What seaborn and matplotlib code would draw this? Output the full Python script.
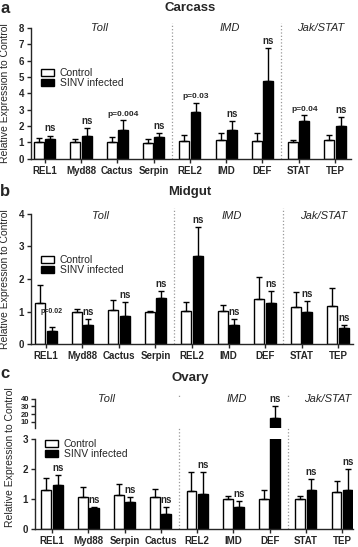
import numpy as np
import pandas as pd
import seaborn as sns
import matplotlib.pyplot as plt

# Data (mean relative expression, upper error)
genes_ab = ['REL1', 'Myd88', 'Cactus', 'Serpin', 'REL2', 'IMD', 'DEF', 'STAT', 'TEP']
genes_c = ['REL1', 'Myd88', 'Serpin', 'Cactus', 'REL2', 'IMD', 'DEF', 'STAT', 'TEP']
groups = ['Control', 'SINV infected']
pathways = ['Toll', 'IMD', 'Jak/STAT']

carcass_ctrl = [1.0, 1.0, 1.0, 0.95, 1.1, 1.14, 1.1, 1.0, 1.12]
carcass_ctrl_err = [0.25, 0.2, 0.3, 0.23, 0.37, 0.45, 0.5, 0.16, 0.35]
carcass_sinv = [1.18, 1.38, 1.78, 1.33, 2.84, 1.78, 4.78, 2.33, 2.02]
carcass_sinv_err = [0.24, 0.47, 0.57, 0.22, 0.56, 0.55, 2.0, 0.32, 0.55]
carcass_sig = ['ns', 'ns', 'p=0.004', 'ns', 'p=0.03', 'ns', 'ns', 'p=0.04', 'ns']

midgut_ctrl = [1.26, 0.99, 1.05, 1.0, 1.01, 1.01, 1.39, 1.14, 1.18]
midgut_ctrl_err = [0.56, 0.09, 0.30, 0.02, 0.28, 0.19, 0.68, 0.46, 0.53]
midgut_sinv = [0.42, 0.59, 0.88, 1.43, 2.71, 0.59, 1.26, 0.98, 0.49]
midgut_sinv_err = [0.10, 0.19, 0.42, 0.19, 0.87, 0.19, 0.36, 0.35, 0.10]
midgut_sig = ['p=0.02', 'ns', 'ns', 'ns', 'ns', 'ns', 'ns', 'ns', 'ns']

ovary_ctrl = [1.30, 1.07, 1.12, 1.06, 1.28, 0.99, 1.01, 1.0, 1.22]
ovary_ctrl_err = [0.40, 0.32, 0.37, 0.26, 0.63, 0.10, 0.30, 0.10, 0.38]
ovary_sinv = [1.48, 0.71, 0.91, 0.50, 1.18, 0.73, 14.5, 1.30, 1.30]
ovary_sinv_err = [0.33, 0.03, 0.16, 0.22, 0.71, 0.21, 15.5, 0.37, 0.69]
ovary_sig = ['ns'] * 9

sns.set_style('ticks')
plt.rcParams['font.family'] = ['Liberation Sans', 'DejaVu Sans']
plt.rcParams['axes.linewidth'] = 1.0

W, H = 358, 547
fig = plt.figure(figsize=(W / 100, H / 100), dpi=100)


def px_axes(left, right, top, bottom):
    return fig.add_axes([left / W, 1 - bottom / H, (right - left) / W, (bottom - top) / H])


def draw_bars(ax, genes, ctrl, sinv):
    df = pd.DataFrame({'Gene': genes * 2, 'Expr': ctrl + sinv,
                       'Group': [groups[0]] * len(genes) + [groups[1]] * len(genes)})
    sns.barplot(data=df, x='Gene', y='Expr', hue='Group', order=genes, hue_order=groups,
                palette=['white', 'black'], edgecolor='black', linewidth=1,
                width=0.62, gap=0.12, errorbar=None, ax=ax)


def add_err(ax, errs, min_height=None):
    for cont, err in zip(ax.containers, errs):
        xs, ys, es = [], [], []
        for b, e in zip(cont, err):
            if min_height is not None and b.get_height() < min_height:
                continue
            xs.append(b.get_x() + b.get_width() / 2)
            ys.append(b.get_height())
            es.append(e)
        if xs:
            ax.errorbar(xs, ys, yerr=[np.zeros(len(es)), es], fmt='none', ecolor='black',
                        elinewidth=1, capsize=2.5, capthick=1, zorder=3)


def add_sig(ax, sig, err, skip=None):
    for b, s, e in zip(ax.containers[1], sig, err):
        if skip is not None and skip(b.get_height()):
            continue
        x = b.get_x() + b.get_width() / 2
        y = b.get_height() + e
        if s.startswith('p'):
            fs = 5 if s == 'p=0.02' else 6
            off = 9 if s == 'p=0.02' else 2
        else:
            fs, off = 7, 1.5
        ax.annotate(s, (x, y), xytext=(0, off), textcoords='offset points',
                    ha='center', va='bottom', fontsize=fs, fontweight='bold')


def style(ax, xlim, legend_y):
    ax.set_xlim(*xlim)
    ax.set_xlabel('')
    ax.set_ylabel('')
    sns.despine(ax=ax)
    ax.tick_params(axis='both', length=3, width=1, pad=2, labelsize=7)
    for t in ax.get_xticklabels() + ax.get_yticklabels():
        t.set_fontweight('bold')
    handles, labels = ax.get_legend_handles_labels()
    ax.legend(handles, labels, loc='center left', bbox_to_anchor=(0.03, legend_y),
              frameon=False, fontsize=7.5, handlelength=1.25, handleheight=0.6,
              handletextpad=0.6, labelspacing=0.0, borderpad=0, borderaxespad=0)


def pathway_labels(ax, xs, y):
    for name, x in zip(pathways, xs):
        ax.text(x, y, name, transform=ax.get_xaxis_transform(), ha='center', va='center',
                fontsize=8, fontstyle='italic')


# Panel a: Carcass
ax_a = px_axes(31, 351, 28, 158.7)
draw_bars(ax_a, genes_ab, carcass_ctrl, carcass_sinv)
add_err(ax_a, [carcass_ctrl_err, carcass_sinv_err])
add_sig(ax_a, carcass_sig, carcass_sinv_err)
ax_a.set_ylim(0, 8)
ax_a.set_yticks(range(0, 9))
style(ax_a, (-0.38, 8.44), 0.615)
for xv in (3.5, 6.5):
    ax_a.axvline(xv, ymin=0, ymax=1.04, color='#999999', ls=':', lw=0.9, clip_on=False)
pathway_labels(ax_a, [1.5, 5.1, 7.6], 1.0)
ax_a.set_ylabel('Relative Expression to Control', fontsize=7.5)
ax_a.yaxis.set_label_coords(-0.066, 0.5)

# Panel b: Midgut
ax_b = px_axes(31, 353, 213.7, 344.3)
draw_bars(ax_b, genes_ab, midgut_ctrl, midgut_sinv)
add_err(ax_b, [midgut_ctrl_err, midgut_sinv_err])
add_sig(ax_b, midgut_sig, midgut_sinv_err)
ax_b.set_ylim(0, 4)
ax_b.set_yticks(range(0, 5))
style(ax_b, (-0.41, 8.41), 0.607)
for xv in (3.5, 6.5):
    ax_b.axvline(xv, ymin=0, ymax=1.04, color='#999999', ls=':', lw=0.9, clip_on=False)
pathway_labels(ax_b, [1.5, 5.1, 7.6], 0.98)
ax_b.set_ylabel('Relative Expression to Control', fontsize=7.5)
ax_b.yaxis.set_label_coords(-0.066, 0.5)

# Panel c: Ovary (broken y axis)
ax_c = px_axes(35, 353, 439.3, 528.7)
ax_c_top = px_axes(35, 353, 398.7, 428.3)
for ax in (ax_c, ax_c_top):
    draw_bars(ax, genes_c, ovary_ctrl, ovary_sinv)
# only the tall bar shows in the upper segment
for cont in ax_c_top.containers:
    for b in cont:
        if b.get_height() <= 3:
            b.set_visible(False)
add_err(ax_c, [ovary_ctrl_err, ovary_sinv_err])
add_err(ax_c_top, [ovary_ctrl_err, ovary_sinv_err], min_height=3)
add_sig(ax_c, ovary_sig, ovary_sinv_err, skip=lambda h: h > 3)
add_sig(ax_c_top, ovary_sig, ovary_sinv_err, skip=lambda h: h <= 3)
ax_c.set_ylim(0, 3)
ax_c.set_yticks(range(0, 4))
style(ax_c, (-0.47, 8.3), 0.89)
ax_c_top.set_ylim(1.4, 40)
ax_c_top.set_yticks([10, 20, 30, 40])
ax_c_top.set_xlim(-0.47, 8.3)
ax_c_top.get_legend().remove()
ax_c_top.set_xlabel('')
ax_c_top.set_ylabel('')
sns.despine(ax=ax_c_top, bottom=True)
ax_c_top.tick_params(axis='x', bottom=False, labelbottom=False)
ax_c_top.tick_params(axis='y', length=3, width=1, pad=1, labelsize=5.5)
for t in ax_c_top.get_yticklabels():
    t.set_fontweight('bold')
for xv in (3.5, 6.5):
    ax_c.axvline(xv, ymin=0, ymax=1.5, color='#999999', ls=':', lw=0.9, clip_on=False)
pathway_labels(ax_c_top, [1.5, 5.1, 7.6], 0.98)
fig.text(10 / W, 1 - 457 / H, 'Relative Expression to Control', rotation=90,
         ha='center', va='center', fontsize=7.5)

# Titles and panel letters
for title, y in [('Carcass', 8), ('Midgut', 192), ('Ovary', 378)]:
    fig.text(190 / W, 1 - y / H, title, ha='center', va='center', fontsize=9.5, fontweight='bold')
for letter, y in [('a', 1), ('b', 184), ('c', 366)]:
    fig.text(5 / W, 1 - y / H, letter, ha='center', va='top', fontsize=12, fontweight='bold')

fig.savefig('out.png', dpi=100)
